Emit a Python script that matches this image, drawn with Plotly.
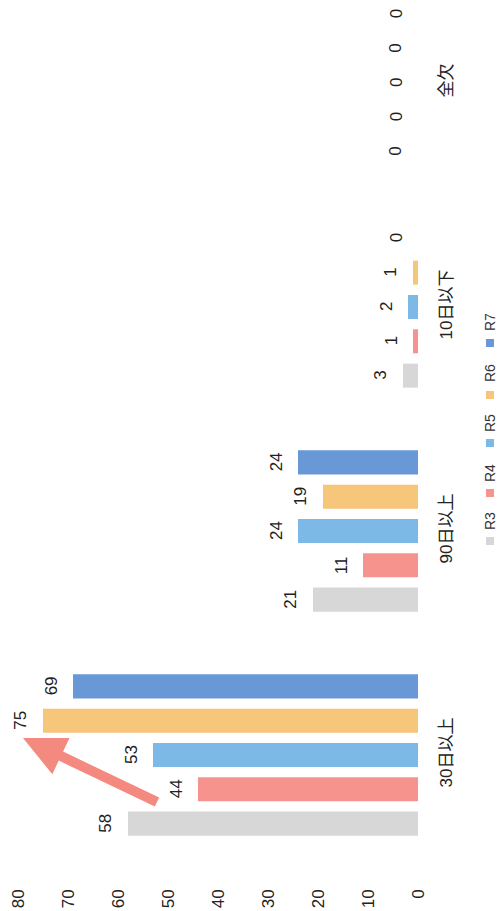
import math
import plotly.graph_objects as go

categories = ["30日以上", "90日以上", "10日以下", "全欠"]
series_names = ["R3", "R4", "R5", "R6", "R7"]
r3 = [58, 21, 3, 0]
r4 = [44, 11, 1, 0]
r5 = [53, 24, 2, 0]
r6 = [75, 19, 1, 0]
r7 = [69, 24, 0, 0]
values = [r3, r4, r5, r6, r7]
x_ticks = [0, 10, 20, 30, 40, 50, 60, 70, 80]
colors = ["#d7d7d7", "#f6938d", "#7db9e7", "#f6c67b", "#6898d6"]

W, H = 499, 911
L, R, T, B = 18, 81, 0, 34
PW, PH = W - L - R, H - T - B
UNIT = 224          # px per category
BARGAP = 0.234
BARGROUPGAP = 0.3


def pxx(x):
    return (x - L) / PW


def pyy(y):
    return 1 - (y - T) / PH


FONT = "Liberation Sans, Noto Sans CJK JP, sans-serif"
TXT = "#222222"

fig = go.Figure()
for name, vals, c in zip(series_names, values, colors):
    fig.add_trace(go.Bar(
        name=name, y=categories, x=vals, orientation="h",
        marker=dict(color=c, line=dict(width=0)),
        showlegend=False, hoverinfo="x+y+name",
    ))

# value labels (rotated like the source), placed at each bar's end
slot = UNIT * (1 - BARGAP) / len(series_names)
for i, vals in enumerate(values):
    for cat, v in zip(categories, vals):
        fig.add_annotation(
            x=v, y=cat, xref="x", yref="y", text=str(v), showarrow=False,
            textangle=-90, xanchor="center", yanchor="middle",
            xshift=-22, yshift=(i - (len(series_names) - 1) / 2) * slot,
            font=dict(size=17, color=TXT, family=FONT),
        )

# legend drawn rotated (like the source)
leg_text_y = [521, 473, 423, 373, 322]
leg_mark_y = [541, 493, 443, 395, 343]
for name, c, ty, my in zip(series_names, colors, leg_text_y, leg_mark_y):
    fig.add_annotation(x=pxx(490), y=pyy(ty), xref="paper", yref="paper",
                       xanchor="center", yanchor="middle",
                       text=name, showarrow=False, textangle=-90,
                       font=dict(size=14, color="#333333", family=FONT))
    fig.add_shape(type="rect", xref="paper", yref="paper",
                  x0=pxx(486), x1=pxx(494), y0=pyy(my - 4), y1=pyy(my + 4),
                  fillcolor=c, line=dict(width=0))

# arrow
tail = (157, 802)
tip = (23, 738)
dx, dy = tip[0] - tail[0], tip[1] - tail[1]
ln = math.hypot(dx, dy)
ux, uy = dx / ln, dy / ln
nx, ny = -uy, ux
sw, hw, hl = 5, 20, 42
bx, by = tip[0] - ux * hl, tip[1] - uy * hl
pts = [
    (tail[0] + nx * sw, tail[1] + ny * sw),
    (bx + nx * sw, by + ny * sw),
    (bx + nx * hw, by + ny * hw),
    tip,
    (bx - nx * hw, by - ny * hw),
    (bx - nx * sw, by - ny * sw),
    (tail[0] - nx * sw, tail[1] - ny * sw),
]
path = "M " + " L ".join(f"{pxx(p[0]):.5f},{pyy(p[1]):.5f}" for p in pts) + " Z"
fig.add_shape(type="path", path=path, xref="paper", yref="paper",
              fillcolor="#f4897f", line=dict(width=0))

rng_bottom = -0.5 - ((H - B) - (755 + UNIT / 2)) / UNIT
rng_top = rng_bottom + PH / UNIT

fig.update_layout(
    width=W, height=H,
    margin=dict(l=L, r=R, t=T, b=B),
    paper_bgcolor="white", plot_bgcolor="white",
    barmode="group", bargap=BARGAP, bargroupgap=BARGROUPGAP,
    font=dict(family=FONT, size=17, color=TXT),
    xaxis=dict(range=[80, 0], tickvals=x_ticks, ticktext=[str(v) for v in x_ticks],
               tickangle=-90, showgrid=False, zeroline=False, showline=False,
               ticks="", ticklabelstandoff=8,
               tickfont=dict(size=17, color=TXT)),
    yaxis=dict(range=[rng_bottom, rng_top], side="right", tickangle=-90,
               showgrid=False, zeroline=False, showline=False, ticks="",
               ticklabelstandoff=16,
               tickfont=dict(size=17, color=TXT)),
)

fig.write_html("out.html")
